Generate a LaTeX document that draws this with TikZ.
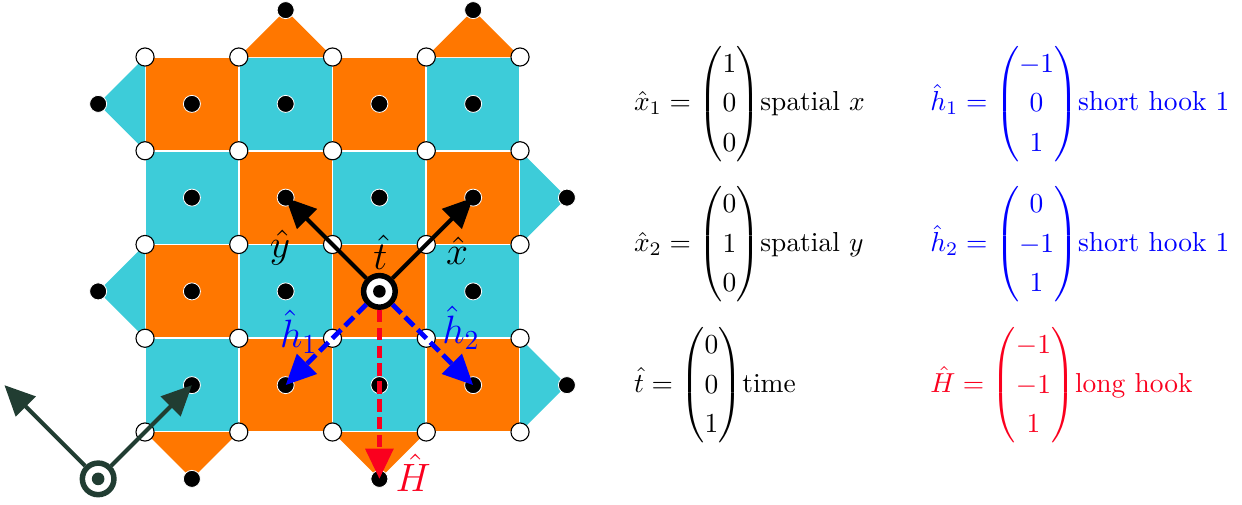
\documentclass[tikz,border=0pt]{standalone}
\usepackage{amsmath,amssymb}
\usepackage{xcolor}
\usepackage{tikz}
\usetikzlibrary{arrows.meta,positioning,calc}
\definecolor{tileorange}{RGB}{255,119,0}
\definecolor{tilecyan}{RGB}{61,204,217}
\definecolor{framegreen}{RGB}{33,61,50}
\definecolor{hookred}{RGB}{250,0,30}
\renewcommand{\arraystretch}{1.2}

\begin{document}
\begin{tikzpicture}[
  x=1.2cm,y=1.2cm,
  tile/.style={draw=white,line width=0.6pt},
  vtx/.style={circle,draw=black,fill=white,line width=0.4pt,minimum size=6.6pt,inner sep=0pt},
  site/.style={circle,draw=white,fill=black,line width=0.3pt,minimum size=6.2pt,inner sep=0pt},
  origin/.style={circle,draw=#1,fill=white,line width=2pt,minimum size=11.5pt,inner sep=0pt,
    path picture={\fill[#1] (path picture bounding box.center) circle (2.3pt);}},
  origin/.default=black,
  arr/.style={-{Triangle[length=11pt,width=10pt]},line width=1.5pt},
  dsh/.style={arr,line width=1.7pt,dash pattern=on 4.5pt off 2pt},
  lbl/.style={font=\Large,inner sep=0pt},
  eq/.style={anchor=west,inner sep=0pt}
]
\useasboundingbox (-1.547,0.608) rectangle (11.701,-4.768);

% checkerboard tiles
\foreach \i in {0,...,3}
  \foreach \j in {0,...,3}{
    \pgfmathtruncatemacro\k{mod(\i+\j,2)}
    \ifnum\k=0 \def\tc{tileorange}\else\def\tc{tilecyan}\fi
    \path[tile,fill=\tc] (\i,-\j) rectangle ++(1,-1);
  }
% boundary triangles
\fill[tileorange] (1,0) -- (2,0) -- (1.5,0.5) -- cycle;
\fill[tileorange] (3,0) -- (4,0) -- (3.5,0.5) -- cycle;
\fill[tilecyan] (0,0) -- (0,-1) -- (-0.5,-0.5) -- cycle;
\fill[tilecyan] (0,-2) -- (0,-3) -- (-0.5,-2.5) -- cycle;
\fill[tilecyan] (4,-1) -- (4,-2) -- (4.5,-1.5) -- cycle;
\fill[tilecyan] (4,-3) -- (4,-4) -- (4.5,-3.5) -- cycle;
\fill[tileorange] (0,-4) -- (1,-4) -- (0.5,-4.5) -- cycle;
\fill[tileorange] (2,-4) -- (3,-4) -- (2.5,-4.5) -- cycle;

% vertices and sites
\foreach \i in {0,...,4}
  \foreach \j in {0,...,4}
    \node[vtx] (v\i\j) at (\i,-\j) {};
\foreach \i in {0,...,3}
  \foreach \j in {0,...,3}
    \node[site] (c\i\j) at (\i+0.5,-\j-0.5) {};
\node[site] (top1) at (1.5,0.5) {};
\node[site] (top3) at (3.5,0.5) {};
\node[site] (left0) at (-0.5,-0.5) {};
\node[site] (left2) at (-0.5,-2.5) {};
\node[site] (right1) at (4.5,-1.5) {};
\node[site] (right3) at (4.5,-3.5) {};
\node[site] (bot0) at (0.5,-4.5) {};
\node[site] (bot2) at (2.5,-4.5) {};

% directions
\node[origin] (o) at (c22) {};
\draw[arr] (o) -- (c31.center);
\draw[arr] (o) -- (c11.center);
\draw[dsh,blue] (o) -- (c13.center);
\draw[dsh,blue] (o) -- (c33.center);
\draw[dsh,hookred] (o) -- (bot2.center);

\node[lbl] (ly) at (1.44,-2.03) {$\hat{y}$};
\node[lbl] (lt) at (2.51,-2.08) {$\hat{t}$};
\node[lbl] (lx) at (3.33,-2.07) {$\hat{x}$};
\node[lbl,blue] (lh1) at (1.64,-2.93) {$\hat{h}_1$};
\node[lbl,blue] (lh2) at (3.37,-2.89) {$\hat{h}_2$};
\node[lbl,hookred] (lH) at (2.86,-4.43) {$\hat{H}$};

% frame
\node[origin=framegreen] (og) at (-0.5,-4.5) {};
\coordinate (gy) at (-1.5,-3.5);
\draw[arr,framegreen] (og) -- (c03.center);
\draw[arr,framegreen] (og) -- (gy);

% legend
\node[eq] (eqx) at (5.21,-0.5) {$\hat{x}_1 = \begin{pmatrix}1\\0\\0\end{pmatrix}$spatial $x$};
\node[eq] (eqy) at (5.21,-2.0) {$\hat{x}_2 = \begin{pmatrix}0\\1\\0\end{pmatrix}$spatial $y$};
\node[eq] (eqt) at (5.21,-3.5) {$\hat{t} = \begin{pmatrix}0\\0\\1\end{pmatrix}$time};
\node[eq,blue] (eqh1) at (8.37,-0.5) {$\hat{h}_1 = \begin{pmatrix}-1\\0\\1\end{pmatrix}$short hook 1};
\node[eq,blue] (eqh2) at (8.37,-2.0) {$\hat{h}_2 = \begin{pmatrix}0\\-1\\1\end{pmatrix}$short hook 1};
\node[eq,hookred] (eqH) at (8.37,-3.5) {$\hat{H} = \begin{pmatrix}-1\\-1\\1\end{pmatrix}$long hook};
\end{tikzpicture}
\end{document}
